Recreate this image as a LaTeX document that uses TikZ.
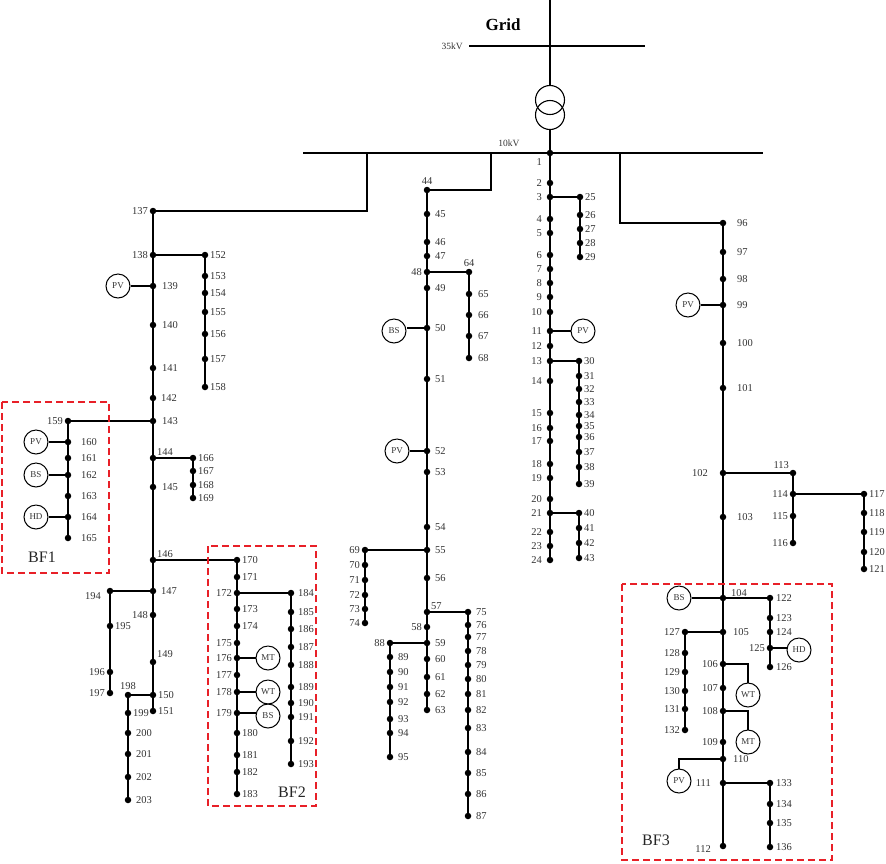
\documentclass[tikz,border=0pt]{standalone}
\usepackage{fontspec}
\setmainfont{Liberation Serif}
\definecolor{bfred}{RGB}{232,32,40}
\newcommand\lblfont{\fontsize{10.5}{11}\selectfont}
\newcommand\genfont{\fontsize{9}{9}\selectfont}
\newcommand\bn[5][]{\node[dot,label={[lbl,#1]#5:#2}] (n#2) at (#3,#4) {};}
\begin{document}
\begin{tikzpicture}[x=1pt,y=-1pt,
  dot/.style={circle,fill=black,inner sep=0pt,minimum size=6.5pt},
  lbl/.style={font=\lblfont,inner sep=1.5pt,text=black!80},
  ln/.style={line width=1.2pt},
  busline/.style={line width=2.8pt},
  gen/.style={draw,circle,line width=1pt,minimum size=24pt,inner sep=0pt,font=\genfont,text=black!80},
  xfmr/.style={draw,circle,line width=1.1pt,minimum size=29pt,inner sep=0pt},
  bfbox/.style={draw=bfred,line width=1.5pt,dash pattern=on 7pt off 4pt},
  bftext/.style={font=\fontsize{16}{16}\selectfont,inner sep=0pt,text=black!85},
  kv/.style={font=\fontsize{9.5}{9.5}\selectfont,inner sep=0pt,text=black!80}]
\useasboundingbox (0,0) rectangle (886,863);

% ---- grid, transformer, buses
\node[font=\bfseries\fontsize{17}{17}\selectfont,inner sep=0pt] (grid) at (503,25) {Grid};
\coordinate (gtop) at (550,0);
\coordinate (b35w) at (469,46);
\coordinate (b35e) at (645,46);
\draw[busline,line width=2.4pt] (b35w) -- (b35e);
\node[kv,anchor=east] (kv35) at (463,46) {35kV};
\node[xfmr] (t1) at (550,100) {};
\node[xfmr] (t2) at (550,115) {};
\draw[ln] (gtop) -- (t1.north);
\coordinate (b10w) at (303,153);
\coordinate (b10e) at (763,153);
\draw[busline] (b10w) -- (b10e);
\node[kv] (kv10) at (509,143) {10kV};
\coordinate (bL) at (367,153);
\coordinate (bM) at (491,153);
\coordinate (bR) at (620,153);

% ---- left feeder
\bn{137}{153}{211}{left}
\bn{138}{153}{255}{left}
\bn[xshift=4pt]{139}{153}{286}{right}
\bn[xshift=4pt]{140}{153}{325}{right}
\bn[xshift=4pt]{141}{153}{368}{right}
\bn[xshift=3pt]{142}{153}{398}{right}
\bn[xshift=4pt]{143}{153}{421}{right}
\bn[yshift=-2pt]{144}{153}{458}{above right}
\bn[xshift=4pt]{145}{153}{487}{right}
\bn[yshift=-2pt]{146}{153}{560}{above right}
\bn[xshift=3pt]{147}{153}{591}{right}
\bn{148}{153}{615}{left}
\bn{149}{153}{662}{above right}
\bn{150}{153}{695}{right}
\bn{151}{153}{711}{right}
\bn{152}{205}{255}{right}
\bn{153}{205}{276}{right}
\bn{154}{205}{293}{right}
\bn{155}{205}{312}{right}
\bn{156}{205}{334}{right}
\bn{157}{205}{359}{right}
\bn{158}{205}{387}{right}
\bn{159}{68}{421}{left}
\bn[xshift=8pt]{160}{68}{442}{right}
\bn[xshift=8pt]{161}{68}{458}{right}
\bn[xshift=8pt]{162}{68}{475}{right}
\bn[xshift=8pt]{163}{68}{496}{right}
\bn[xshift=8pt]{164}{68}{517}{right}
\bn[xshift=8pt]{165}{68}{538}{right}
\bn{166}{193}{458}{right}
\bn{167}{193}{471}{right}
\bn{168}{193}{485}{right}
\bn{169}{193}{498}{right}
\bn{170}{237}{560}{right}
\bn{171}{237}{577}{right}
\bn{172}{237}{593}{left}
\bn{173}{237}{609}{right}
\bn{174}{237}{626}{right}
\bn{175}{237}{643}{left}
\bn{176}{237}{658}{left}
\bn{177}{237}{675}{left}
\bn{178}{237}{692}{left}
\bn{179}{237}{713}{left}
\bn{180}{237}{733}{right}
\bn{181}{237}{755}{right}
\bn{182}{237}{772}{right}
\bn{183}{237}{794}{right}
\bn[xshift=2pt]{184}{291}{593}{right}
\bn[xshift=2pt]{185}{291}{612}{right}
\bn[xshift=2pt]{186}{291}{629}{right}
\bn[xshift=2pt]{187}{291}{647}{right}
\bn[xshift=2pt]{188}{291}{665}{right}
\bn[xshift=2pt]{189}{291}{687}{right}
\bn[xshift=2pt]{190}{291}{703}{right}
\bn[xshift=2pt]{191}{291}{717}{right}
\bn[xshift=2pt]{192}{291}{741}{right}
\bn[xshift=2pt]{193}{291}{764}{right}
\bn[xshift=-5pt,yshift=3pt]{194}{110}{591}{below left}
\bn{195}{110}{626}{right}
\bn{196}{110}{672}{left}
\bn{197}{110}{693}{left}
\bn{198}{128}{695}{above}
\bn{199}{128}{713}{right}
\bn[xshift=3pt]{200}{128}{733}{right}
\bn[xshift=3pt]{201}{128}{754}{right}
\bn[xshift=3pt]{202}{128}{777}{right}
\bn[xshift=3pt]{203}{128}{800}{right}

\node[gen] (pv139) at (118,286) {PV};
\node[gen] (pv160) at (36,442) {PV};
\node[gen] (bs162) at (36,475) {BS};
\node[gen] (hd164) at (36,517) {HD};
\node[gen] (mt176) at (268,658) {MT};
\node[gen] (wt178) at (268,692) {WT};
\node[gen] (bs179) at (268,716) {BS};

\draw[ln] (n137) -- (n151);
\draw[ln] (n137) -| (bL);
\draw[ln] (n138) -- (n152) -- (n158);
\draw[ln] (pv139) -- (n139);
\draw[ln] (n143) -- (n159) -- (n165);
\draw[ln] (pv160) -- (n160);
\draw[ln] (bs162) -- (n162);
\draw[ln] (hd164) -- (n164);
\draw[ln] (n144) -- (n166) -- (n169);
\draw[ln] (n146) -- (n170) -- (n183);
\draw[ln] (n172) -- (n184) -- (n193);
\draw[ln] (n176) -- (mt176);
\draw[ln] (n178) -- (wt178);
\draw[ln] (n179) -- (n179 -| bs179.west);
\draw[ln] (n147) -- (n194) -- (n197);
\draw[ln] (n150) -- (n198) -- (n203);

\draw[bfbox] (2,402) rectangle (109,573);
\node[bftext] (bf1) at (42,557) {BF1};
\draw[bfbox] (208,546) rectangle (316,806);
\node[bftext] (bf2) at (292,792) {BF2};

% ---- middle feeder
\bn{44}{427}{190}{above}
\bn[xshift=3pt]{45}{427}{214}{right}
\bn[xshift=3pt]{46}{427}{242}{right}
\bn[xshift=3pt]{47}{427}{256}{right}
\bn{48}{427}{272}{left}
\bn[xshift=3pt]{49}{427}{288}{right}
\bn[xshift=3pt]{50}{427}{328}{right}
\bn[xshift=3pt]{51}{427}{379}{right}
\bn[xshift=3pt]{52}{427}{451}{right}
\bn[xshift=3pt]{53}{427}{472}{right}
\bn[xshift=3pt]{54}{427}{527}{right}
\bn[xshift=3pt]{55}{427}{550}{right}
\bn[xshift=3pt]{56}{427}{578}{right}
\bn[yshift=-2pt]{57}{427}{612}{above right}
\bn{58}{427}{627}{left}
\bn[xshift=3pt]{59}{427}{643}{right}
\bn[xshift=3pt]{60}{427}{659}{right}
\bn[xshift=3pt]{61}{427}{677}{right}
\bn[xshift=3pt]{62}{427}{694}{right}
\bn[xshift=3pt]{63}{427}{710}{right}
\bn{64}{469}{272}{above}
\bn[xshift=4pt]{65}{469}{294}{right}
\bn[xshift=4pt]{66}{469}{315}{right}
\bn[xshift=4pt]{67}{469}{336}{right}
\bn[xshift=4pt]{68}{469}{358}{right}
\bn{69}{365}{550}{left}
\bn{70}{365}{565}{left}
\bn{71}{365}{580}{left}
\bn{72}{365}{595}{left}
\bn{73}{365}{609}{left}
\bn{74}{365}{623}{left}
\bn[xshift=3pt]{75}{468}{612}{right}
\bn[xshift=3pt]{76}{468}{625}{right}
\bn[xshift=3pt]{77}{468}{637}{right}
\bn[xshift=3pt]{78}{468}{651}{right}
\bn[xshift=3pt]{79}{468}{665}{right}
\bn[xshift=3pt]{80}{468}{679}{right}
\bn[xshift=3pt]{81}{468}{694}{right}
\bn[xshift=3pt]{82}{468}{710}{right}
\bn[xshift=3pt]{83}{468}{728}{right}
\bn[xshift=3pt]{84}{468}{752}{right}
\bn[xshift=3pt]{85}{468}{773}{right}
\bn[xshift=3pt]{86}{468}{794}{right}
\bn[xshift=3pt]{87}{468}{816}{right}
\bn{88}{390}{643}{left}
\bn[xshift=3pt]{89}{390}{657}{right}
\bn[xshift=3pt]{90}{390}{672}{right}
\bn[xshift=3pt]{91}{390}{687}{right}
\bn[xshift=3pt]{92}{390}{702}{right}
\bn[xshift=3pt]{93}{390}{719}{right}
\bn[xshift=3pt]{94}{390}{733}{right}
\bn[xshift=3pt]{95}{390}{757}{right}

\node[gen] (bs50) at (394,331) {BS};
\node[gen] (pv52) at (397,451) {PV};

\draw[ln] (n44) -| (bM);
\draw[ln] (n44) -- (n63);
\draw[ln] (n48) -- (n64) -- (n68);
\draw[ln] (n55) -- (n69) -- (n74);
\draw[ln] (n57) -- (n75) -- (n87);
\draw[ln] (n59) -- (n88) -- (n95);
\draw[ln] (n50) -- (n50 -| bs50.east);
\draw[ln] (pv52) -- (n52);

% ---- feeder from node 1
\bn[xshift=-4pt,yshift=-1pt]{1}{550}{153}{below left}
\bn[xshift=-3pt]{2}{550}{183}{left}
\bn[xshift=-3pt]{3}{550}{197}{left}
\bn[xshift=-3pt]{4}{550}{219}{left}
\bn[xshift=-3pt]{5}{550}{233}{left}
\bn[xshift=-3pt]{6}{550}{255}{left}
\bn[xshift=-3pt]{7}{550}{269}{left}
\bn[xshift=-3pt]{8}{550}{283}{left}
\bn[xshift=-3pt]{9}{550}{297}{left}
\bn[xshift=-3pt]{10}{550}{312}{left}
\bn[xshift=-3pt]{11}{550}{331}{left}
\bn[xshift=-3pt]{12}{550}{346}{left}
\bn[xshift=-3pt]{13}{550}{361}{left}
\bn[xshift=-3pt]{14}{550}{381}{left}
\bn[xshift=-3pt]{15}{550}{413}{left}
\bn[xshift=-3pt]{16}{550}{428}{left}
\bn[xshift=-3pt]{17}{550}{441}{left}
\bn[xshift=-3pt]{18}{550}{464}{left}
\bn[xshift=-3pt]{19}{550}{478}{left}
\bn[xshift=-3pt]{20}{550}{499}{left}
\bn[xshift=-3pt]{21}{550}{513}{left}
\bn[xshift=-3pt]{22}{550}{532}{left}
\bn[xshift=-3pt]{23}{550}{546}{left}
\bn[xshift=-3pt]{24}{550}{560}{left}
\bn{25}{580}{197}{right}
\bn{26}{580}{215}{right}
\bn{27}{580}{229}{right}
\bn{28}{580}{243}{right}
\bn{29}{580}{257}{right}
\bn{30}{579}{361}{right}
\bn{31}{579}{376}{right}
\bn{32}{579}{389}{right}
\bn{33}{579}{402}{right}
\bn{34}{579}{415}{right}
\bn{35}{579}{426}{right}
\bn{36}{579}{437}{right}
\bn{37}{579}{452}{right}
\bn{38}{579}{467}{right}
\bn{39}{579}{484}{right}
\bn{40}{579}{513}{right}
\bn{41}{579}{528}{right}
\bn{42}{579}{543}{right}
\bn{43}{579}{558}{right}

\node[gen] (pv11) at (583,331) {PV};

\draw[ln] (t2.south) -- (n1);
\draw[ln] (n1) -- (n24);
\draw[ln] (n3) -- (n25) -- (n29);
\draw[ln] (n13) -- (n30) -- (n39);
\draw[ln] (n21) -- (n40) -- (n43);
\draw[ln] (n11) -- (pv11);

% ---- right feeder
\bn[xshift=9pt]{96}{723}{223}{right}
\bn[xshift=9pt]{97}{723}{252}{right}
\bn[xshift=9pt]{98}{723}{279}{right}
\bn[xshift=9pt]{99}{723}{305}{right}
\bn[xshift=9pt]{100}{723}{343}{right}
\bn[xshift=9pt]{101}{723}{388}{right}
\bn[xshift=-10pt]{102}{723}{473}{left}
\bn[xshift=9pt]{103}{723}{517}{right}
\bn[xshift=4pt,yshift=-3pt]{104}{723}{598}{above right}
\bn[xshift=5pt]{105}{723}{632}{right}
\bn{106}{723}{664}{left}
\bn{107}{723}{688}{left}
\bn{108}{723}{711}{left}
\bn{109}{723}{742}{left}
\bn[xshift=5pt]{110}{723}{759}{right}
\bn[xshift=-7pt]{111}{723}{783}{left}
\bn[xshift=-7pt,yshift=-3pt]{112}{723}{846}{left}
\bn{113}{793}{473}{above left}
\bn{114}{793}{494}{left}
\bn{115}{793}{516}{left}
\bn{116}{793}{543}{left}
\bn{117}{864}{494}{right}
\bn{118}{864}{513}{right}
\bn{119}{864}{532}{right}
\bn{120}{864}{552}{right}
\bn{121}{864}{569}{right}
\bn[xshift=1pt]{122}{770}{598}{right}
\bn[xshift=1pt]{123}{770}{618}{right}
\bn[xshift=1pt]{124}{770}{632}{right}
\bn{125}{770}{648}{left}
\bn[xshift=1pt]{126}{770}{667}{right}
\bn{127}{685}{632}{left}
\bn{128}{685}{653}{left}
\bn{129}{685}{672}{left}
\bn{130}{685}{691}{left}
\bn{131}{685}{709}{left}
\bn{132}{685}{730}{left}
\bn[xshift=1pt]{133}{770}{783}{right}
\bn[xshift=1pt]{134}{770}{804}{right}
\bn[xshift=1pt]{135}{770}{823}{right}
\bn[xshift=1pt]{136}{770}{847}{right}

\node[gen] (pv99) at (688,305) {PV};
\node[gen] (bs104) at (679,598) {BS};
\node[gen] (hd125) at (799,650) {HD};
\node[gen] (wt106) at (748,695) {WT};
\node[gen] (mt108) at (748,742) {MT};
\node[gen] (pv110) at (679,781) {PV};

\draw[ln] (n96) -| (bR);
\draw[ln] (n96) -- (n112);
\draw[ln] (pv99) -- (n99);
\draw[ln] (n102) -- (n113) -- (n116);
\draw[ln] (n114) -- (n117) -- (n121);
\draw[ln] (bs104) -- (n104);
\draw[ln] (n104) -- (n122) -- (n126);
\draw[ln] (n125) -- (n125 -| hd125.west);
\draw[ln] (n105) -- (n127) -- (n132);
\draw[ln] (n106) -| (wt106.north);
\draw[ln] (n108) -| (mt108.north);
\draw[ln] (n110) -| (pv110.north);
\draw[ln] (n111) -- (n133) -- (n136);

\draw[bfbox] (622,584) rectangle (832,860);
\node[bftext] (bf3) at (656,840) {BF3};
\end{tikzpicture}
\end{document}
